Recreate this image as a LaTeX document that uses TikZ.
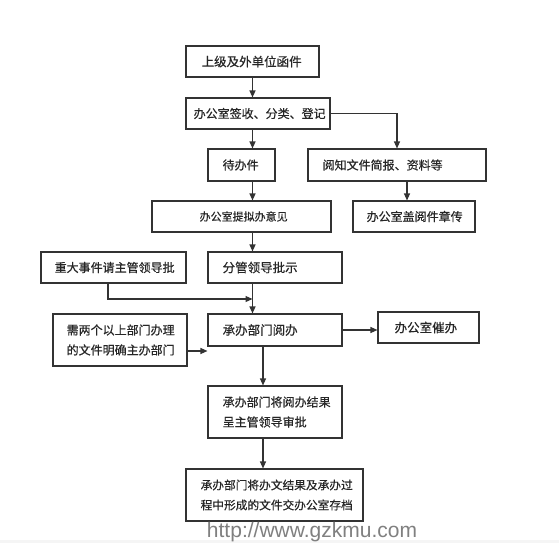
\documentclass[tikz,border=0pt]{standalone}
\usepackage{fontspec}
\newfontfamily\cjk[FakeBold=0.4]{Noto Sans CJK SC}
\setsansfont{Liberation Sans}
\usetikzlibrary{arrows.meta}
\begin{document}
\begin{tikzpicture}[x=1pt,y=-1pt,
  box/.style={draw=black!80,line width=1.1pt,inner sep=0pt},
  txt/.style={anchor=west,inner sep=0pt,font=\cjk\fontsize{12pt}{20pt}\selectfont,align=left,text=black!85},
  arr/.style={draw=black!80,line width=1.1pt,-{Triangle[length=7pt,width=6pt]}},
  ln/.style={draw=black!80,line width=1.1pt}]
\useasboundingbox (0,0) rectangle (559,543);
\fill[white] (0,0) rectangle (559,543);
\fill[black!4] (0,540) rectangle (559,543);
% boxes
\node[box,minimum width=133pt,minimum height=31pt] (b1) at (252.5,61.5) {};
\node[box,minimum width=144pt,minimum height=31pt] (b2) at (258,113.5) {};
\node[box,minimum width=67pt,minimum height=32pt] (b3) at (241.5,165) {};
\node[box,minimum width=178pt,minimum height=32pt] (b4) at (397,165) {};
\node[box,minimum width=179pt,minimum height=31pt] (b5) at (241.5,216.5) {};
\node[box,minimum width=122pt,minimum height=31pt] (b6) at (414,216.5) {};
\node[box,minimum width=145pt,minimum height=31pt] (b7) at (113.5,267.5) {};
\node[box,minimum width=134pt,minimum height=31pt] (b8) at (275,267.5) {};
\node[box,minimum width=134pt,minimum height=52pt] (b9) at (120,340) {};
\node[box,minimum width=134pt,minimum height=32pt] (b10) at (275,330) {};
\node[box,minimum width=101pt,minimum height=31pt] (b11) at (428.5,327.5) {};
\node[box,minimum width=134pt,minimum height=52pt] (b12) at (275,412) {};
\node[box,minimum width=177pt,minimum height=52pt] (b13) at (274.5,495) {};
% texts
\node[txt,font=\cjk\fontsize{12.5pt}{20pt}\selectfont] (t1) at ([xshift=16pt]b1.west) {上级及外单位函件};
\node[txt] (t2) at ([xshift=8pt]b2.west) {办公室签收、分类、登记};
\node[txt] (t3) at ([xshift=15pt]b3.west) {待办件};
\node[txt] (t4) at ([xshift=15pt]b4.west) {阅知文件简报、资料等};
\node[txt,font=\cjk\fontsize{11pt}{20pt}\selectfont] (t5) at ([xshift=48pt]b5.west) {办公室提拟办意见};
\node[txt] (t6) at ([xshift=14pt]b6.west) {办公室盖阅件章传};
\node[txt] (t7) at ([xshift=14pt]b7.west) {重大事件请主管领导批};
\node[txt,font=\cjk\fontsize{12.5pt}{20pt}\selectfont] (t8) at ([xshift=15pt]b8.west) {分管领导批示};
\node[txt] (t9) at ([xshift=14pt]b9.west) {需两个以上部门办理\\的文件明确主办部门};
\node[txt,font=\cjk\fontsize{12.5pt}{20pt}\selectfont] (t10) at ([xshift=15pt]b10.west) {承办部门阅办};
\node[txt,font=\cjk\fontsize{12.5pt}{20pt}\selectfont] (t11) at ([xshift=17pt]b11.west) {办公室催办};
\node[txt] (t12) at ([xshift=15pt]b12.west) {承办部门将阅办结果\\呈主管领导审批};
\node[txt,font=\cjk\fontsize{11.7pt}{20pt}\selectfont] (t13) at ([xshift=15pt]b13.west) {承办部门将办文结果及承办过\\程中形成的文件交办公室存档};
% connectors
\draw[arr] (b1.south) -- (b1.south |- b2.north);
\draw[arr] (b1.south |- b2.south) -- (b1.south |- b3.north);
\draw[arr] (b2.east) -| (b4.north);
\draw[arr] (b1.south |- b3.south) -- (b1.south |- b5.north);
\draw[arr] ([xshift=10pt]b4.south) -- ([xshift=10pt]b4.south |- b6.north);
\draw[arr] (b1.south |- b5.south) -- (b1.south |- b8.north);
\draw[arr] (b1.south |- b8.south) -- (b1.south |- b10.north);
\coordinate (j) at (252.5,299);
\draw[arr] ([xshift=-5.5pt]b7.south) |- (j);
\draw[arr] ([yshift=-11pt]b9.east) -- ([yshift=-11pt]b9.east -| b10.west);
\draw[arr] (b10.east) -- (b10.east -| b11.west);
\draw[arr] ([xshift=-12pt]b10.south) -- ([xshift=-12pt]b10.south |- b12.north);
\draw[arr] ([xshift=-12pt]b12.south) -- ([xshift=-12pt]b12.south |- b13.north);
% watermark
\node[anchor=base,inner sep=0pt,text=black!50,font=\sffamily\fontsize{21pt}{24pt}\selectfont] (wm) at (312,537) {http://www.gzkmu.com};
\end{tikzpicture}
\end{document}
